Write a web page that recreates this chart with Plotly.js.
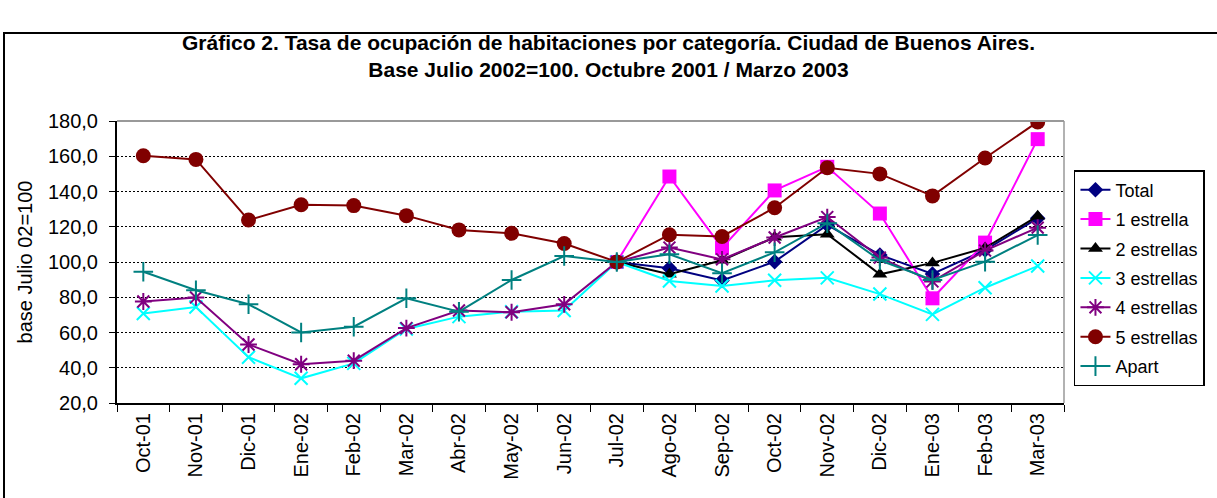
<!DOCTYPE html>
<html>
<head>
<meta charset="utf-8">
<script src="https://cdn.plot.ly/plotly-3.0.1.min.js"></script>
<style>
  html, body { margin: 0; padding: 0; background: #fff; }
  #wrap { position: relative; width: 1217px; height: 498px; overflow: hidden; }
  #chart { width: 1217px; height: 498px; }
  #frame { position: absolute; left: 3px; top: 32px; width: 1400px; height: 600px;
           border: 2px solid #000; pointer-events: none; box-sizing: border-box; }
</style>
</head>
<body>
<div id="wrap">
  <div id="chart"></div>
  <div id="frame"></div>
</div>
<script>
const categories = ["Oct-01","Nov-01","Dic-01","Ene-02","Feb-02","Mar-02","Abr-02","May-02","Jun-02",
                    "Jul-02","Ago-02","Sep-02","Oct-02","Nov-02","Dic-02","Ene-03","Feb-03","Mar-03"];

const total      = [null,null,null,null,null,null,null,null,null, 100, 96.5, 89.5, 100.2, 121.0, 104.0, 93.2, 106.8, 124.8];
const estrella1  = [null,null,null,null,null,null,null,null,null, 100, 148.5, 108.0, 140.6, 154.0, 127.5, 79.4, 111.0, 169.7];
const estrellas2 = [null,null,null,null,null,null,null,null,null, 100, 93.0, 101.0, 114.0, 115.8, 93.0, 99.5, 108.0, 126.0];
const estrellas3 = [70.8, 74.5, 46.0, 34.0, 42.5, 62.0, 69.0, 71.8, 72.5, 100, 89.2, 86.4, 89.6, 91.0, 81.8, 70.3, 85.4, 97.7];
const estrellas4 = [77.6, 79.9, 53.2, 42.0, 44.0, 62.5, 72.5, 71.5, 76.0, 100, 108.2, 101.5, 113.9, 125.5, 102.5, 89.0, 106.5, 119.5];
const estrellas5 = [160.3, 158.2, 123.8, 132.5, 132.0, 126.3, 118.2, 116.3, 110.5, 100, 115.5, 114.5, 130.8, 153.5, 150.0, 137.5, 159.0, 179.5];
const apart      = [94.5, 84.0, 76.0, 60.0, 63.3, 79.4, 71.8, 89.8, 103.4, 100, 104.4, 93.6, 105.5, 122.0, 101.0, 89.8, 100.2, 115.3];

const yTicks = [20, 40, 60, 80, 100, 120, 140, 160, 180];

const seriesNames = ["Total","1 estrella","2 estrellas","3 estrellas","4 estrellas","5 estrellas","Apart"];
const seriesData = [total, estrella1, estrellas2, estrellas3, estrellas4, estrellas5, apart];
const styles = [
  {color:"#000080", symbol:"diamond", size:12, mline:0},
  {color:"#FF00FF", symbol:"square", size:14, mline:0},
  {color:"#000000", symbol:"triangle-up", size:13, mline:0},
  {color:"#00FFFF", symbol:"x-thin-open", size:13, mline:2},
  {color:"#800080", symbol:"asterisk-open", size:14, mline:2},
  {color:"#800000", symbol:"circle", size:15, mline:0},
  {color:"#008080", symbol:"cross-thin-open", size:14, mline:2}
];

const traces = seriesNames.map((name, i) => ({
  type: "scatter",
  mode: "lines+markers",
  name: name,
  legendgroup: "g" + i,
  x: categories,
  y: seriesData[i],
  line: {color: styles[i].color, width: 2},
  marker: {symbol: styles[i].symbol, size: styles[i].size, color: styles[i].color,
           line: {color: styles[i].color, width: styles[i].mline}},
  connectgaps: false
}));

const font = "Arial, 'Liberation Sans', sans-serif";

const layout = {
  width: 1217, height: 498,
  margin: {l: 117, r: 150, t: 121, b: 95},
  paper_bgcolor: "#fff", plot_bgcolor: "#fff",
  separators: ",.",
  font: {family: font, color: "#000", size: 18},
  title: {
    text: "<b>Gráfico 2. Tasa de ocupación de habitaciones por categoría. Ciudad de Buenos Aires.<br>Base Julio 2002=100. Octubre 2001 / Marzo 2003</b>",
    font: {family: font, size: 21, color: "#000"},
    x: 0.5, xref: "container", xanchor: "center",
    y: 1 - 50/498, yref: "container", yanchor: "top"
  },
  xaxis: {
    type: "category",
    range: [-0.5, 17.5],
    tickangle: -90,
    tickson: "boundaries",
    ticks: "outside", ticklen: 7, tickwidth: 1, tickcolor: "#000",
    showline: true, linecolor: "#000", linewidth: 2,
    showgrid: false, zeroline: false,
    tickfont: {family: font, size: 20, color: "#000"},
    fixedrange: true
  },
  yaxis: {
    range: [20, 180],
    tickvals: yTicks,
    tickformat: ".1f",
    ticks: "outside", ticklen: 6, tickwidth: 1, tickcolor: "#000",
    ticklabelstandoff: 7,
    showline: true, linecolor: "#000", linewidth: 2,
    showgrid: true, gridcolor: "#000", gridwidth: 1, griddash: "2px,2px",
    zeroline: false,
    tickfont: {family: font, size: 20, color: "#000"},
    title: {text: "base Julio 02=100", font: {family: font, size: 20, color: "#000"}, standoff: 10},
    fixedrange: true
  },
  legend: {
    x: (1077 - 117) / 950, xanchor: "left",
    y: (403 - 170) / 282, yanchor: "top",
    bordercolor: "#000", borderwidth: 1.5, bgcolor: "#fff",
    font: {family: font, size: 18, color: "#000"},
    tracegroupgap: 3
  },
  shapes: [
    {type: "line", xref: "paper", yref: "paper", x0: 0, x1: 1, y0: 1, y1: 1, line: {color: "#999", width: 2}},
    {type: "line", xref: "paper", yref: "paper", x0: 1, x1: 1, y0: 0, y1: 1, line: {color: "#999", width: 1.5}}
  ],
  showlegend: true
};

Plotly.newPlot("chart", traces, layout, {displayModeBar: false, staticPlot: true});
</script>
</body>
</html>
